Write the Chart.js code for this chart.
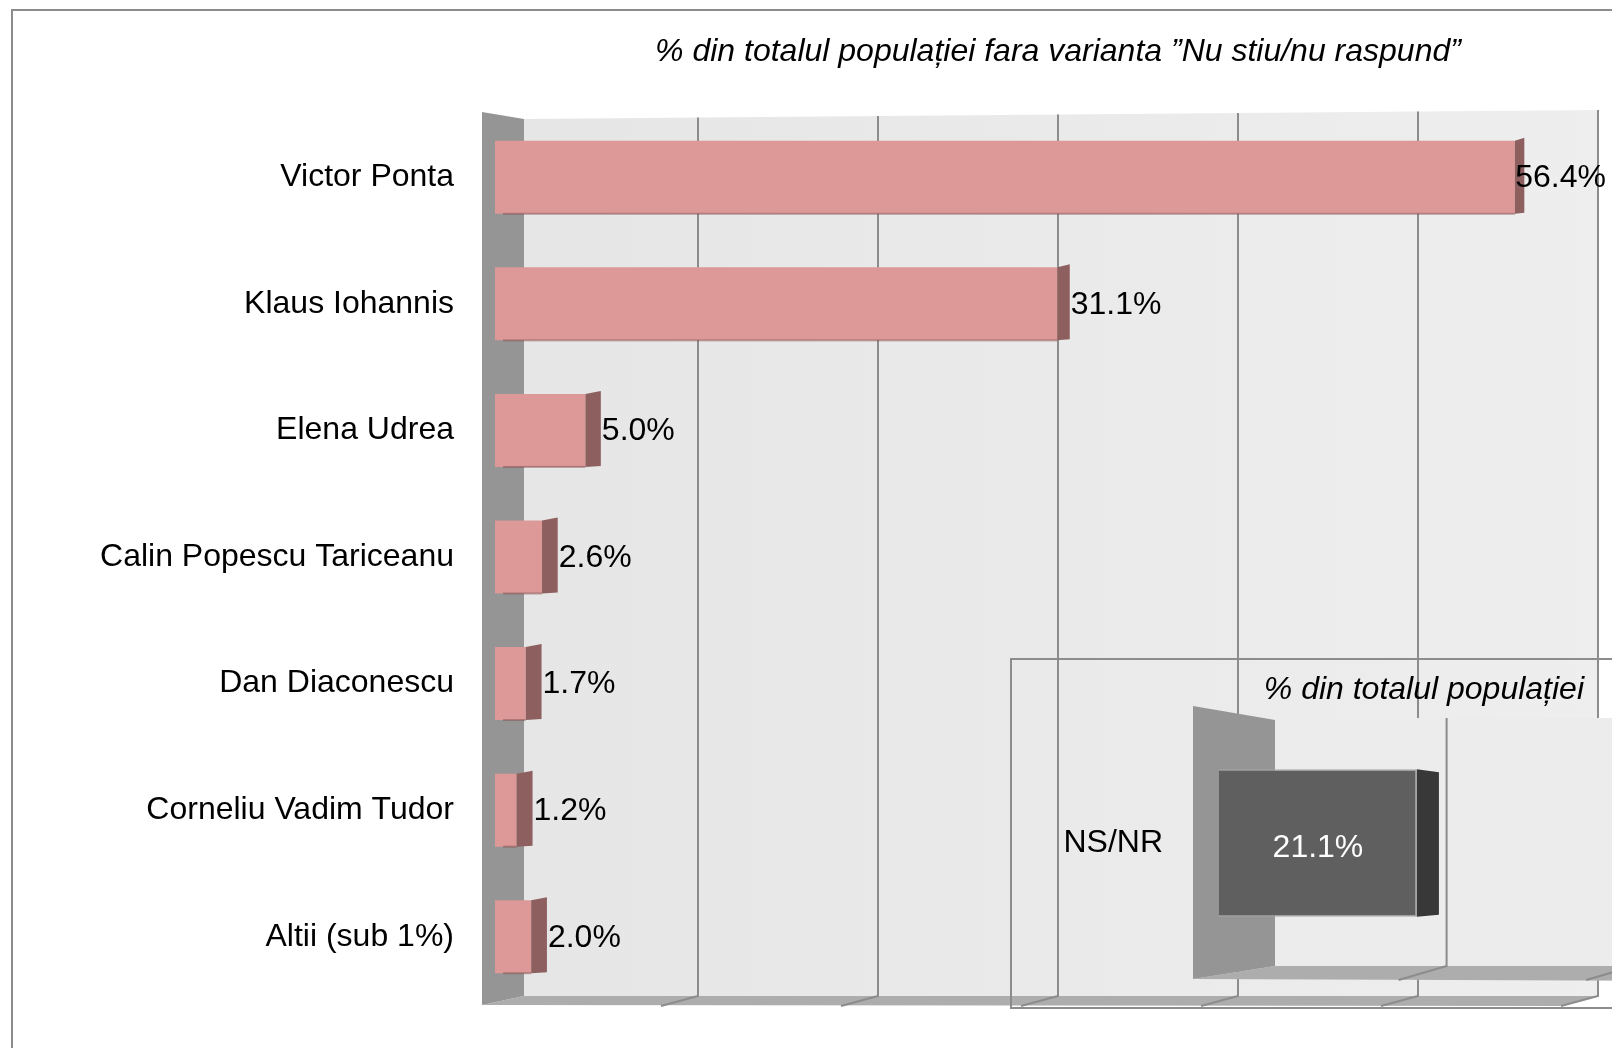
<!DOCTYPE html>
<html>
<head>
<meta charset="utf-8">
<script src="https://cdn.jsdelivr.net/npm/chart.js@4.4.1/dist/chart.umd.min.js"></script>
<style>
  html, body { margin: 0; padding: 0; background: #fff; overflow: hidden; }
  body { width: 1612px; height: 1048px; position: relative; font-family: "Liberation Sans", Arial, sans-serif; }
  #frame { position: absolute; left: 11px; top: 9px; width: 1700px; height: 1200px; border: 2px solid #8c8c8c; }
  canvas { position: absolute; }
  #mainChart { left: 0; top: 0; }
  #insetBox { position: absolute; left: 1010px; top: 658px; width: 700px; height: 347px; border: 2px solid #8c8c8c; }
  #insetChart { left: 1011px; top: 659px; }
  .title { position: absolute; font-style: italic; font-size: 32px; line-height: 38px; color: #000; white-space: nowrap; }
  #mainTitle { left: 0; width: 2116px; top: 31px; text-align: center; }
  #insetTitle { left: 1000px; width: 584px; top: 669px; text-align: right; }
</style>
</head>
<body>
<div id="frame"></div>
<canvas id="mainChart" width="1612" height="1048"></canvas>
<div id="mainTitle" class="title">% din totalul populației fara varianta ”Nu stiu/nu raspund”</div>
<div id="insetBox"></div>
<canvas id="insetChart" width="700" height="389"></canvas>
<div id="insetTitle" class="title">% din totalul populației</div>
<script>
  // Data
  const candidates = [
    'Victor Ponta',
    'Klaus Iohannis',
    'Elena Udrea',
    'Calin Popescu Tariceanu',
    'Dan Diaconescu',
    'Corneliu Vadim Tudor',
    'Altii (sub 1%)'
  ]
  const shares = [56.4, 31.1, 5.0, 2.6, 1.7, 1.2, 2.0]
  const mainGridValues = [10, 20, 30, 40, 50, 60]

  const undecidedLabels = ['NS/NR']
  const undecidedShares = [21.1]
  const insetGridValues = [20, 40]

  const fontFamily = '"Liberation Sans", Arial, sans-serif'
  const labelFont = '32px ' + fontFamily
  const pct = v => v.toFixed(1) + '%'

  // fixed axis width, and no extra label padding pushing the plot area
  const fixAxis = w => s => {
    s.width = w
    s.paddingTop = 0
    s.paddingBottom = 0
  }

  // back wall, side wall, floor and grid lines of the main chart
  const mainWalls = {
    id: 'mainWalls',
    beforeDraw(chart) {
      const { ctx, chartArea: a, scales: { x } } = chart
      const max = x.max
      const depth = v => 23 - 5 * (v / max)
      const wallL = a.left - 13, wallR = a.left + 29
      const backRight = x.getPixelForValue(max) + depth(max)
      const topL = a.top + 5, topR = a.top - 4
      const backBottom = a.bottom - 4, floorY = a.bottom + 5
      const topAt = gx => topL + (topR - topL) * (gx - wallR) / (backRight - wallR)

      ctx.save()
      const g = ctx.createLinearGradient(wallR, 0, backRight, 0)
      g.addColorStop(0, '#e6e6e6')
      g.addColorStop(1, '#eeeeee')
      ctx.fillStyle = g
      ctx.beginPath()
      ctx.moveTo(wallR, topL)
      ctx.lineTo(backRight, topR)
      ctx.lineTo(backRight, backBottom)
      ctx.lineTo(wallR, backBottom)
      ctx.closePath()
      ctx.fill()

      ctx.fillStyle = '#adadad'
      ctx.beginPath()
      ctx.moveTo(wallR, backBottom)
      ctx.lineTo(backRight, backBottom)
      ctx.lineTo(backRight - 38, floorY + 1)
      ctx.lineTo(wallL, floorY)
      ctx.closePath()
      ctx.fill()

      ctx.fillStyle = '#959595'
      ctx.beginPath()
      ctx.moveTo(wallL, a.top - 2)
      ctx.lineTo(wallR, topL)
      ctx.lineTo(wallR, backBottom)
      ctx.lineTo(wallL, floorY)
      ctx.closePath()
      ctx.fill()

      ctx.strokeStyle = '#8c8c8c'
      ctx.lineWidth = 2
      mainGridValues.forEach(v => {
        const gx = x.getPixelForValue(v) + depth(v)
        ctx.beginPath()
        ctx.moveTo(gx, topAt(gx))
        ctx.lineTo(gx, backBottom)
        ctx.lineTo(gx - 37, floorY + 1)
        ctx.stroke()
      })
      ctx.restore()
    }
  }

  // side faces of the bars + value labels
  const mainFaces = {
    id: 'mainFaces',
    afterDatasetsDraw(chart) {
      const { ctx, chartArea: a } = chart
      const meta = chart.getDatasetMeta(0)
      ctx.save()
      meta.data.forEach((bar, i) => {
        const { x, y, base, height } = bar.getProps(['x', 'y', 'base', 'height'], true)
        const top = y - height / 2, bot = y + height / 2
        const d = 16 - 7 * (x - a.left) / (a.right - a.left)
        ctx.fillStyle = 'rgba(120,70,70,0.45)'
        ctx.fillRect(base + 8, bot - 1, x - base - 8, 2)
        ctx.fillStyle = '#8e5f5f'
        ctx.beginPath()
        ctx.moveTo(x, top)
        ctx.lineTo(x + d, top - 3)
        ctx.lineTo(x + d, bot - 1)
        ctx.lineTo(x, bot)
        ctx.closePath()
        ctx.fill()

        const txt = pct(shares[i])
        ctx.font = labelFont
        ctx.fillStyle = '#000'
        ctx.textAlign = 'left'
        ctx.textBaseline = 'middle'
        const w = ctx.measureText(txt).width
        ctx.fillText(txt, Math.min(x + d + 1, chart.width - 6 - w), y + 1)
      })
      ctx.restore()
    }
  }

  new Chart(document.getElementById('mainChart'), {
    type: 'bar',
    data: {
      labels: candidates,
      datasets: [{
        data: shares,
        backgroundColor: '#dd9898',
        borderWidth: 0,
        barPercentage: 0.577,
        categoryPercentage: 1
      }]
    },
    options: {
      indexAxis: 'y',
      responsive: false,
      animation: false,
      events: [],
      layout: { padding: { top: 114, bottom: 48, left: 0, right: 32 } },
      scales: {
        x: { display: false, min: 0, max: 60 },
        y: {
          afterFit: fixAxis(495),
          grid: { display: false, drawTicks: false },
          border: { display: false },
          ticks: { padding: 41, color: '#000', font: { size: 32, family: fontFamily } }
        }
      },
      plugins: { legend: { display: false }, tooltip: { enabled: false } }
    },
    plugins: [mainWalls, mainFaces]
  })

  // inset chart: walls
  const insetWalls = {
    id: 'insetWalls',
    beforeDraw(chart) {
      const { ctx, chartArea: a, scales: { x } } = chart
      const wallL = a.left - 26, wallR = a.left + 56, right = chart.width
      const floorY = a.bottom + 13
      ctx.save()
      ctx.fillStyle = '#ececec'
      ctx.fillRect(wallR, a.top - 2, right - wallR, a.bottom - a.top + 2)

      ctx.fillStyle = '#adadad'
      ctx.beginPath()
      ctx.moveTo(wallR, a.bottom)
      ctx.lineTo(right, a.bottom)
      ctx.lineTo(right, floorY + 2)
      ctx.lineTo(wallL, floorY)
      ctx.closePath()
      ctx.fill()

      ctx.fillStyle = '#959595'
      ctx.beginPath()
      ctx.moveTo(wallL, a.top - 14)
      ctx.lineTo(wallR, a.top)
      ctx.lineTo(wallR, a.bottom)
      ctx.lineTo(wallL, floorY)
      ctx.closePath()
      ctx.fill()

      ctx.strokeStyle = '#8c8c8c'
      ctx.lineWidth = 2
      insetGridValues.forEach(v => {
        const gx = x.getPixelForValue(v) + 40
        ctx.beginPath()
        ctx.moveTo(gx, a.top - 2)
        ctx.lineTo(gx, a.bottom)
        ctx.lineTo(gx - 48, floorY + 1)
        ctx.stroke()
      })
      ctx.restore()
    }
  }

  const insetFaces = {
    id: 'insetFaces',
    afterDatasetsDraw(chart) {
      const { ctx } = chart
      const meta = chart.getDatasetMeta(0)
      ctx.save()
      meta.data.forEach((bar, i) => {
        const { x, y, base, height } = bar.getProps(['x', 'y', 'base', 'height'], true)
        const top = y - height / 2, bot = y + height / 2
        ctx.fillStyle = '#383838'
        ctx.beginPath()
        ctx.moveTo(x, top)
        ctx.lineTo(x + 22, top + 3)
        ctx.lineTo(x + 22, bot - 2)
        ctx.lineTo(x, bot)
        ctx.closePath()
        ctx.fill()

        ctx.font = labelFont
        ctx.fillStyle = '#fff'
        ctx.textAlign = 'center'
        ctx.textBaseline = 'middle'
        ctx.fillText(pct(undecidedShares[i]), (x + base) / 2, y + 5)
      })
      ctx.restore()
    }
  }

  new Chart(document.getElementById('insetChart'), {
    type: 'bar',
    data: {
      labels: undecidedLabels,
      datasets: [{
        data: undecidedShares,
        backgroundColor: '#5f5f5f',
        borderColor: '#a5a5a5',
        borderWidth: 1.5,
        barPercentage: 0.6,
        categoryPercentage: 1
      }]
    },
    options: {
      indexAxis: 'y',
      responsive: false,
      animation: false,
      events: [],
      layout: { padding: { top: 61, bottom: 82, left: 0, right: 23 } },
      scales: {
        x: { display: false, min: 0, max: 50 },
        y: {
          afterFit: fixAxis(208),
          grid: { display: false, drawTicks: false },
          border: { display: false },
          ticks: { padding: 56, color: '#000', font: { size: 32, family: fontFamily } }
        }
      },
      plugins: { legend: { display: false }, tooltip: { enabled: false } }
    },
    plugins: [insetWalls, insetFaces]
  })
</script>
</body>
</html>
